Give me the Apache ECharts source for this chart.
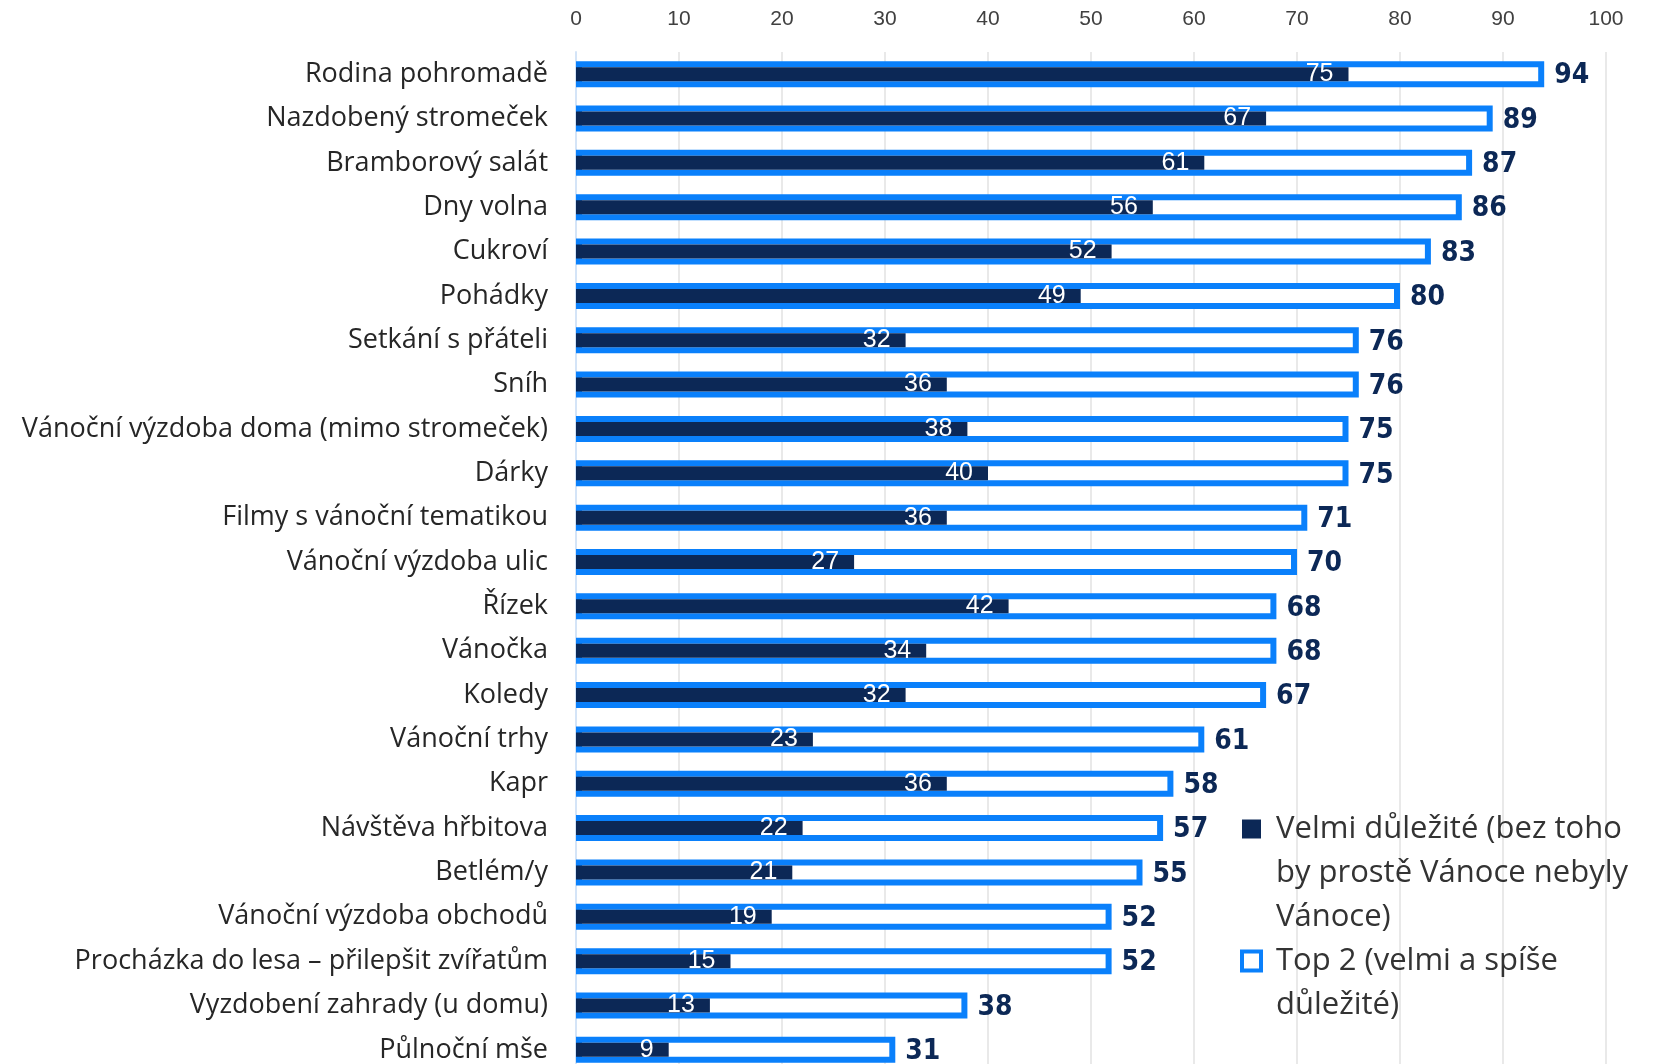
<!DOCTYPE html>
<html>
<head>
<meta charset="utf-8">
<script src="https://cdn.jsdelivr.net/npm/echarts@6/dist/echarts.min.js"></script>
<style>
  html, body { margin: 0; padding: 0; background: #fff; }
  #chart { width: 1663px; height: 1064px; }
</style>
</head>
<body>
<div id="chart"></div>
<script>
var categories = [
  'Rodina pohromadě', 'Nazdobený stromeček', 'Bramborový salát', 'Dny volna',
  'Cukroví', 'Pohádky', 'Setkání s přáteli', 'Sníh',
  'Vánoční výzdoba doma (mimo stromeček)', 'Dárky', 'Filmy s vánoční tematikou',
  'Vánoční výzdoba ulic', 'Řízek', 'Vánočka', 'Koledy', 'Vánoční trhy', 'Kapr',
  'Návštěva hřbitova', 'Betlém/y', 'Vánoční výzdoba obchodů',
  'Procházka do lesa – přilepšit zvířatům', 'Vyzdobení zahrady (u domu)', 'Půlnoční mše'
]
var velmi = [75, 67, 61, 56, 52, 49, 32, 36, 38, 40, 36, 27, 42, 34, 32, 23, 36, 22, 21, 19, 15, 13, 9]
var top2 = [94, 89, 87, 86, 83, 80, 76, 76, 75, 75, 71, 70, 68, 68, 67, 61, 58, 57, 55, 52, 52, 38, 31]
var seriesNames = ['Velmi důležité (bez toho by prostě Vánoce nebyly Vánoce)', 'Top 2 (velmi a spíše důležité)']
var legendText = {}
legendText[seriesNames[0]] = '\n\nVelmi důležité (bez toho\nby prostě Vánoce nebyly\nVánoce)'
legendText[seriesNames[1]] = '\nTop 2 (velmi a spíše\ndůležité)'

var navy = '#0c2856'
var blue = '#0a80fb'

var myChart = echarts.init(document.getElementById('chart'))
var option = {
  animation: false,
  grid: { left: 576, right: 57, top: 52, height: 1020, outerBoundsMode: 'none' },
  legend: {
    orient: 'vertical',
    left: 1235,
    top: 714,
    itemWidth: 19,
    itemHeight: 19,
    itemGap: -44,
    textStyle: {
      fontFamily: 'Open Sans',
      fontSize: 31,
      color: '#333',
      lineHeight: 44,
      padding: [0, 0, 0, 10]
    },
    formatter: function (name) { return legendText[name] },
    data: [
      { name: seriesNames[0], icon: 'rect', itemStyle: { color: navy, borderWidth: 0 } },
      { name: seriesNames[1], icon: 'rect', itemStyle: { color: '#fff', borderColor: blue, borderWidth: 4 } }
    ]
  },
  xAxis: {
    type: 'value',
    position: 'top',
    min: 0,
    max: 100,
    interval: 10,
    axisLine: { show: false },
    axisTick: { show: false },
    axisLabel: { fontFamily: 'Liberation Sans', fontSize: 21, color: '#404040', margin: 22 },
    splitLine: { lineStyle: { color: '#e9e9e9', width: 2 } }
  },
  yAxis: [{
    type: 'category',
    inverse: true,
    data: categories,
    axisLine: { lineStyle: { color: '#d4e4f7', width: 2 } },
    axisTick: { show: false },
    axisLabel: { fontFamily: 'Open Sans', fontSize: 27, color: '#262626', margin: 28 }
  }, {
    // second category axis so the inner bar is centred on its own
    type: 'category',
    inverse: true,
    data: categories,
    position: 'left',
    show: false
  }],
  series: [{
    name: seriesNames[1],
    type: 'bar',
    yAxisIndex: 0,
    data: top2,
    barWidth: 26,
    itemStyle: { color: '#fff', borderColor: blue, borderWidth: 6 },
    label: {
      show: true,
      position: 'right',
      distance: 10,
      offset: [0, 2],
      fontFamily: 'DejaVu Sans Condensed',
      fontWeight: 'bold',
      fontSize: 28,
      color: navy
    },
    z: 2
  }, {
    name: seriesNames[0],
    type: 'bar',
    yAxisIndex: 1,
    data: velmi,
    barWidth: 14,
    itemStyle: { color: navy },
    label: {
      show: true,
      position: 'insideRight',
      distance: 15,
      fontFamily: 'Liberation Sans',
      fontSize: 25,
      color: '#fff'
    },
    z: 3
  }]
}
myChart.setOption(option)
</script>
</body>
</html>
